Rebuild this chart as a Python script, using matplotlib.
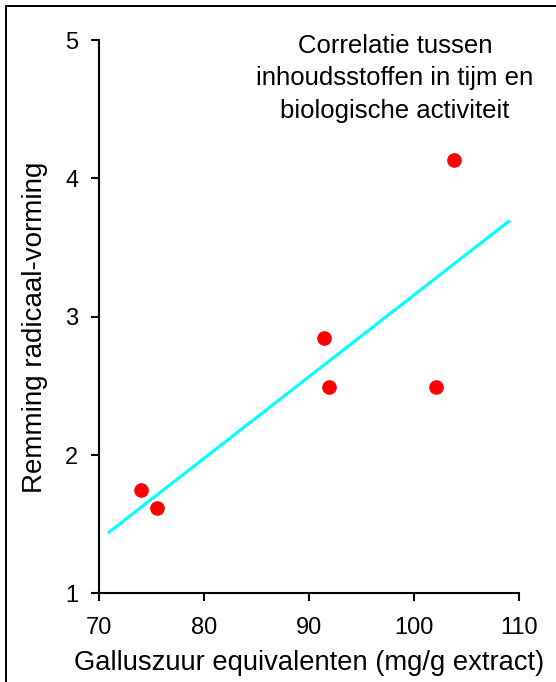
import matplotlib.pyplot as plt
import numpy as np
from matplotlib.patches import Rectangle

# gemeten waarden: galluszuur-equivalenten tegen remming van radicaalvorming
gallus = [74.05, 75.6, 91.4, 91.9, 102.1, 103.8]
remming = [1.75, 1.62, 2.85, 2.49, 2.49, 4.13]
fit_range = [71, 109]

x_ticks = [70, 80, 90, 100, 110]
y_ticks = [1, 2, 3, 4, 5]

plt.rcParams['font.family'] = ['Liberation Sans', 'DejaVu Sans']

fig = plt.figure(figsize=(5.56, 6.82), dpi=100)
ax = fig.add_axes([0.1772, 0.1298, 0.934 - 0.1772, 0.9413 - 0.1298])

# lineaire regressie
slope, intercept = np.polyfit(gallus, remming, 1)
xf = np.array(fit_range)
ax.plot(xf, slope * xf + intercept, color='#00ffff', lw=2.2, zorder=2)
ax.plot(gallus, remming, 'o', color='red', markersize=9.5, zorder=3)

ax.set_xlim(70, 110)
ax.set_ylim(1, 5)
ax.set_xticks(x_ticks)
ax.set_yticks(y_ticks)
ax.spines['top'].set_visible(False)
ax.spines['right'].set_visible(False)
for s in ['left', 'bottom']:
    ax.spines[s].set_linewidth(1.5)
ax.tick_params(direction='out', length=6, width=1.5, labelsize=17)
ax.tick_params(axis='x', pad=11)
ax.tick_params(axis='y', pad=8.5)

ax.set_xlabel('Galluszuur equivalenten (mg/g extract)', fontsize=19.7, va='center')
ax.xaxis.set_label_coords(0.5, -0.125)
ax.set_ylabel('Remming radicaal-vorming', fontsize=20, va='center')
ax.yaxis.set_label_coords(-0.151, 0.481)

ax.text(0.704, 1.011, 'Correlatie tussen\ninhoudsstoffen in tijm en\nbiologische activiteit',
        transform=ax.transAxes, ha='center', va='top', fontsize=18.5, linespacing=1.45)

# kader rond de figuur (links en boven)
fig.patches.append(Rectangle((6 / 556, -0.05), 1.2, 1 - 6 / 682 + 0.05,
                             transform=fig.transFigure, fill=False,
                             edgecolor='black', lw=1.4))

fig.savefig('out.png', dpi=100)
